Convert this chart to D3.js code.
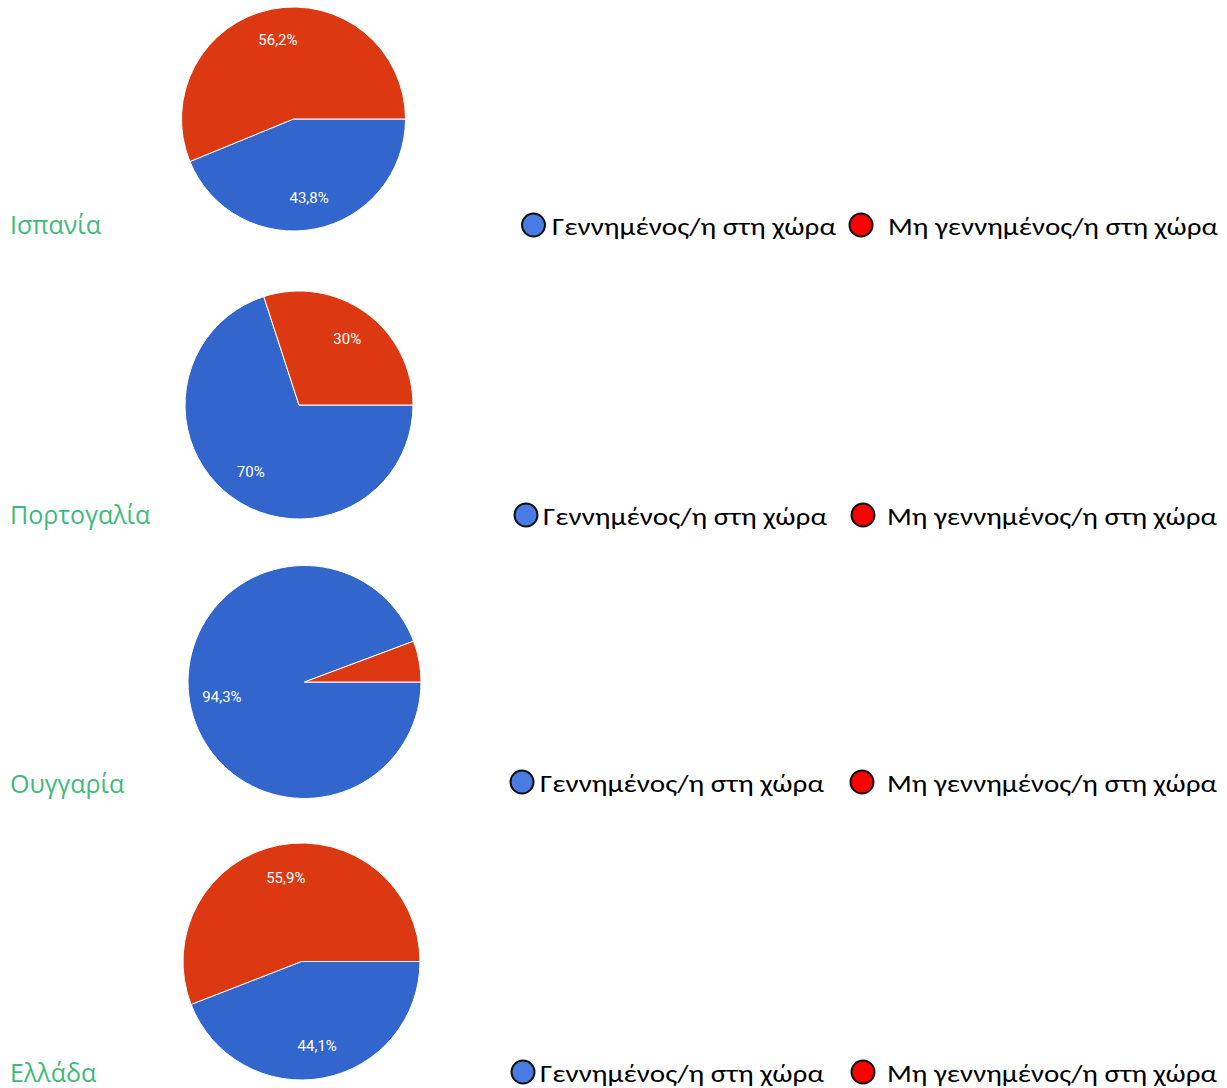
<!DOCTYPE html>
<html>
<head>
<meta charset="utf-8">
<script src="https://cdn.jsdelivr.net/npm/d3@7"></script>
<style>
  html, body { margin: 0; padding: 0; background: #ffffff; }
  svg { display: block; }
</style>
</head>
<body>
<svg id="chart" width="1227" height="1088"></svg>
<script>
// ---- data ----
const countries = ["Ισπανία", "Πορτογαλία", "Ουγγαρία", "Ελλάδα"];
const bornInCountry = [43.8, 70, 94.3, 44.1];
const notBornInCountry = [56.2, 30, 5.7, 55.9];
const seriesNames = ["Γεννημένος/η στη χώρα", "Μη γεννημένος/η στη χώρα"];

// ---- styling / layout ----
const sliceColors = ["#3366cc", "#dc3912"];
const legendColors = ["#4a7be3", "#ff0000"];
const labelGreen = "#3fba7c";

// per-panel layout: pie centre / radius, label baseline, legend positions
const panels = [
  { cx: 293.5, cy: 119,   r: 112,   base: 234,  b1: 533.5, t1: 552, b2: 861, t2: 888, ly: 225 },
  { cx: 299,   cy: 405,   r: 114,   base: 524,  b1: 526,   t1: 543, b2: 863, t2: 887, ly: 515 },
  { cx: 304.5, cy: 682,   r: 116.5, base: 793,  b1: 522,   t1: 540, b2: 862, t2: 887, ly: 782 },
  { cx: 301.5, cy: 961.5, r: 118.5, base: 1082, b1: 523,   t1: 540, b2: 863, t2: 887, ly: 1072 }
];

const svg = d3.select("#chart");

const pie = d3.pie().sort(null).value(d => d.value)
  .startAngle(Math.PI / 2).endAngle(Math.PI / 2 + 2 * Math.PI);

const fmt = v => String(v).replace(".", ",") + "%";

countries.forEach((country, i) => {
  const p = panels[i];
  const data = [
    { key: seriesNames[0], value: bornInCountry[i] },
    { key: seriesNames[1], value: notBornInCountry[i] }
  ];
  const arcs = pie(data);
  const arc = d3.arc().innerRadius(0).outerRadius(p.r);
  const labelArc = d3.arc().innerRadius(p.r * 0.72).outerRadius(p.r * 0.72);

  const g = svg.append("g").attr("transform", `translate(${p.cx},${p.cy})`);
  g.selectAll("path").data(arcs).enter().append("path")
    .attr("d", arc)
    .attr("fill", (d, j) => sliceColors[j])
    .attr("stroke", "#ffffff")
    .attr("stroke-width", 1);

  g.selectAll("text").data(arcs.filter(d => d.data.value >= 10)).enter().append("text")
    .attr("transform", d => `translate(${labelArc.centroid(d)})`)
    .attr("text-anchor", "middle")
    .attr("dy", "0.35em")
    .attr("fill", "#ffffff")
    .style("font-family", "Roboto, Arial, sans-serif")
    .style("font-size", "15px")
    .text(d => fmt(d.data.value));

  // country label
  svg.append("text")
    .attr("x", 10).attr("y", p.base)
    .attr("fill", labelGreen)
    .style("font-family", "'Open Sans', 'Noto Sans', sans-serif")
    .style("font-size", "25px")
    .text(country);

  // legend
  const lg = svg.append("g");
  [[p.b1, p.t1, 284], [p.b2, p.t2, 330]].forEach(([bx, tx, tl], j) => {
    lg.append("circle")
      .attr("cx", bx).attr("cy", p.ly).attr("r", 11.5)
      .attr("fill", legendColors[j])
      .attr("stroke", "#111111")
      .attr("stroke-width", 2);
    lg.append("text")
      .attr("x", tx).attr("y", p.ly + 10)
      .attr("fill", "#000000")
      .attr("textLength", tl)
      .attr("lengthAdjust", "spacingAndGlyphs")
      .style("font-family", "Carlito, 'Liberation Sans Narrow', 'Open Sans', sans-serif")
      .style("font-size", "24px")
      .text(seriesNames[j]);
  });
});
</script>
</body>
</html>
